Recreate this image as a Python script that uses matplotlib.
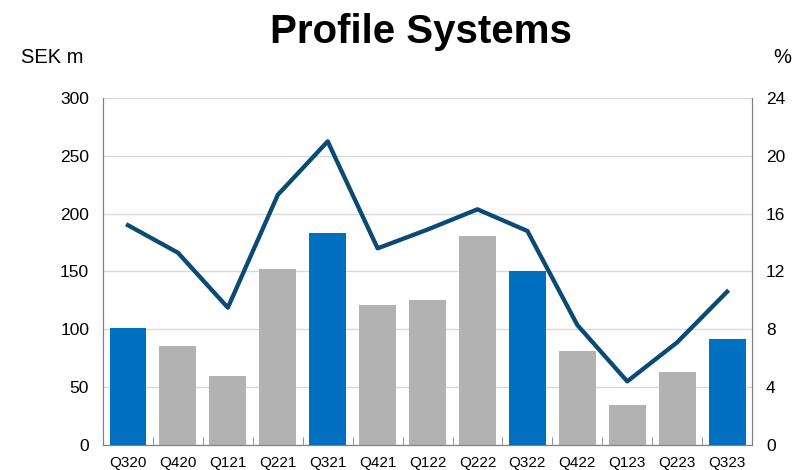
import numpy as np
import matplotlib.pyplot as plt

plt.rcParams['font.family'] = ['Liberation Sans', 'DejaVu Sans']

quarters = ['Q320', 'Q420', 'Q121', 'Q221', 'Q321', 'Q421', 'Q122',
            'Q222', 'Q322', 'Q422', 'Q123', 'Q223', 'Q323']
sales = [101, 86, 60, 152, 183, 121, 125, 181, 150, 81, 35, 63, 92]
margin = [15.2, 13.3, 9.5, 17.3, 21.0, 13.6, 14.9, 16.3, 14.8, 8.3, 4.4, 7.1, 10.6]

blue = '#0070c0'
gray = '#b2b2b2'
navy = '#0b4a73'
colors = [blue if q.startswith('Q3') else gray for q in quarters]

fig = plt.figure(figsize=(7.95, 4.70), dpi=100)
ax = fig.add_axes([0.1296, 0.0532, 0.8164, 0.7383])
x = np.arange(len(quarters))

ax.bar(x, sales, width=0.74, color=colors, zorder=2)
ax.set_xlim(-0.5, len(quarters) - 0.5)
ax.set_ylim(0, 300)
ax.set_yticks(range(0, 301, 50))
ax.grid(axis='y', color='#d9d9d9', linewidth=1, zorder=0)
ax.set_xticks(x)
ax.set_xticklabels(quarters, fontsize=11)
ax.tick_params(axis='x', length=0, pad=8)
ax.tick_params(axis='y', length=0, labelsize=12.5, pad=10)
# small ticks between categories, pointing up into the plot
ax.set_xticks(np.arange(0.5, len(quarters) - 1, 1), minor=True)
ax.tick_params(axis='x', which='minor', length=6, direction='in', color='#808080')

for s in ['left', 'right', 'bottom']:
    ax.spines[s].set_color('#808080')
ax.spines['top'].set_visible(False)

ax2 = ax.twinx()
ax2.plot(x, margin, color=navy, linewidth=3.1, zorder=3)
ax2.set_ylim(0, 24)
ax2.set_yticks(range(0, 25, 4))
ax2.tick_params(axis='y', length=0, labelsize=12.5, pad=10)
for s in ['left', 'right', 'bottom']:
    ax2.spines[s].set_color('#808080')
ax2.spines['top'].set_visible(False)

fig.text(0.53, 0.932, 'Profile Systems', ha='center', va='center',
         fontsize=29, fontweight='bold')
fig.text(0.027, 0.877, 'SEK m', ha='left', va='center', fontsize=14.5)
fig.text(0.995, 0.877, '%', ha='right', va='center', fontsize=14.5)

fig.savefig('out.png', dpi=100)
